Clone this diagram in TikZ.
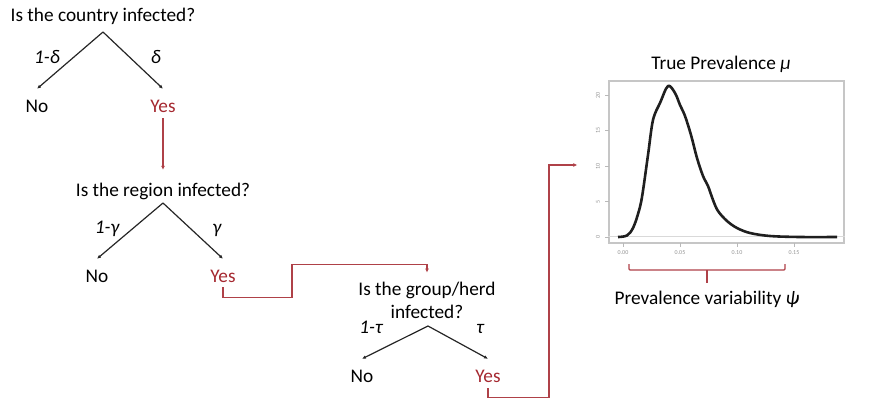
\documentclass[tikz,border=0pt]{standalone}
\usepackage{fontspec}
\setmainfont{Carlito}
\usepackage{tikz}
\usetikzlibrary{arrows.meta}
\usepackage{xcolor}
\definecolor{yesred}{RGB}{165,40,48}
\definecolor{linkred}{RGB}{175,65,72}

\begin{document}
\begin{tikzpicture}[x=1pt, y=-1pt,
  quest/.style={inner sep=0pt, font=\fontsize{19.3}{23}\selectfont,
    align=center, text height=12pt, text depth=4pt},
  quest2/.style={inner sep=0pt, font=\fontsize{19.3}{23}\selectfont, align=center},
  ans/.style={inner sep=0pt, font=\fontsize{19.3}{23}\selectfont,
    text height=12pt, text depth=4pt, anchor=base},
  yesans/.style={ans, text=yesred},
  prob/.style={inner sep=0pt, font=\fontsize{19.3}{23}\selectfont\itshape, anchor=base},
  branch/.style={-{Latex[length=4pt,width=3.5pt]}, line width=1.2pt, color=black!85},
  link/.style={-{Latex[length=4pt,width=4pt]}, line width=1.3pt, color=linkred},
  frame/.style={draw=gray!45, line width=1.4pt, inner sep=0pt,
    minimum width=235pt, minimum height=162pt},
  ticklbl/.style={inner sep=0pt, font=\fontsize{6}{7}\selectfont, text=gray!85},
  dens/.style={line width=2.6pt, color=black!88, line join=round}
]
\useasboundingbox (0,0) rectangle (869,402);

% country
\node[quest, anchor=base] (q1) at (103,21) {Is the country infected?};
\coordinate (t1) at (103,32);
\node[ans] (no1) at (37,112) {No};
\node[yesans] (yes1) at (163,112) {Yes};
\node[prob] (p1) at (47,63) {1-δ};
\node[prob] (p1y) at (156,63) {δ};
\draw[branch] (t1) -- ([yshift=11pt]no1.north);
\draw[branch] (t1) -- ([yshift=11pt]yes1.north);

% region
\node[quest, anchor=base] (q2) at (163,196) {Is the region infected?};
\coordinate (t2) at (163,203);
\node[ans] (no2) at (97,282) {No};
\node[yesans] (yes2) at (223,282) {Yes};
\node[prob] (p2) at (107,233) {1-γ};
\node[prob] (p2y) at (217,233) {γ};
\draw[branch] (t2) -- ([yshift=11pt]no2.north);
\draw[branch] (t2) -- ([yshift=11pt]yes2.north);

% group / herd
\node[quest2] (q3) at (427,300) {Is the group/herd\\infected?};
\coordinate (t3) at (428,326);
\node[ans] (no3) at (362,382) {No};
\node[yesans] (yes3) at (488,382) {Yes};
\node[prob] (p3) at (371,333) {1-τ};
\node[prob] (p3y) at (480,333) {τ};
\draw[branch] (t3) -- ([yshift=11pt]no3.north);
\draw[branch] (t3) -- ([yshift=11pt]yes3.north);

% prevalence plot
\node[frame] (pd) at (726.5,162) {};
\node[quest, anchor=base] (ttl) at (721,69) {True Prevalence \textit{μ}};
\draw[gray!30, line width=1pt] (pd.west |- 0,236.5) -- (pd.east |- 0,236.5);
\foreach \v/\lbl in {0/0,5/5,10/10,15/15,20/20}
  {\draw[gray!55, line width=0.6pt] (605,237-7.1*\v) -- (609,237-7.1*\v);
   \node[ticklbl, rotate=90] (yl\v) at (598,237-7.1*\v) {\lbl};}
\foreach \v/\lbl in {0/0.00,1/0.05,2/0.10,3/0.15}
  {\draw[gray!55, line width=0.6pt] (623+57*\v,243) -- (623+57*\v,247);
   \node[ticklbl] (xl\v) at (623+57*\v,253) {\lbl};}
\draw[dens] plot[smooth, tension=0.55] coordinates {
  (618,237) (627,235.5) (633,228) (638,214) (642,197) (648,155) (653,120)
  (660,103) (668,86) (675,93) (680,105) (685,116) (691,135) (697,158)
  (703,176) (708,186) (713,200) (718,211) (727,221) (737,228) (750,233)
  (770,236) (800,237) (837,237)};
\draw[linkred, line width=1.3pt, rounded corners=1pt]
  (629,264) -- (629,270) -- (785,270) -- (785,264);
\draw[linkred, line width=1.3pt] (707,270) -- (707,283);
\node[quest, anchor=base] (var) at (707,304) {Prevalence variability \textit{ψ}};

% red links
\draw[link] ([yshift=-2pt]yes1.south) -- ([yshift=14pt]q2.north);
\draw[link] ([yshift=-1pt]yes2.south) -- ++(0,10) -| ++(69,-33)
  -| ([yshift=9pt]q3.north);
\draw[link] ([yshift=-2pt]yes3.south) -- ++(0,9) -- ++(61,0)
  |- ([xshift=-31pt,yshift=-3pt]pd.west);
\end{tikzpicture}
\end{document}
